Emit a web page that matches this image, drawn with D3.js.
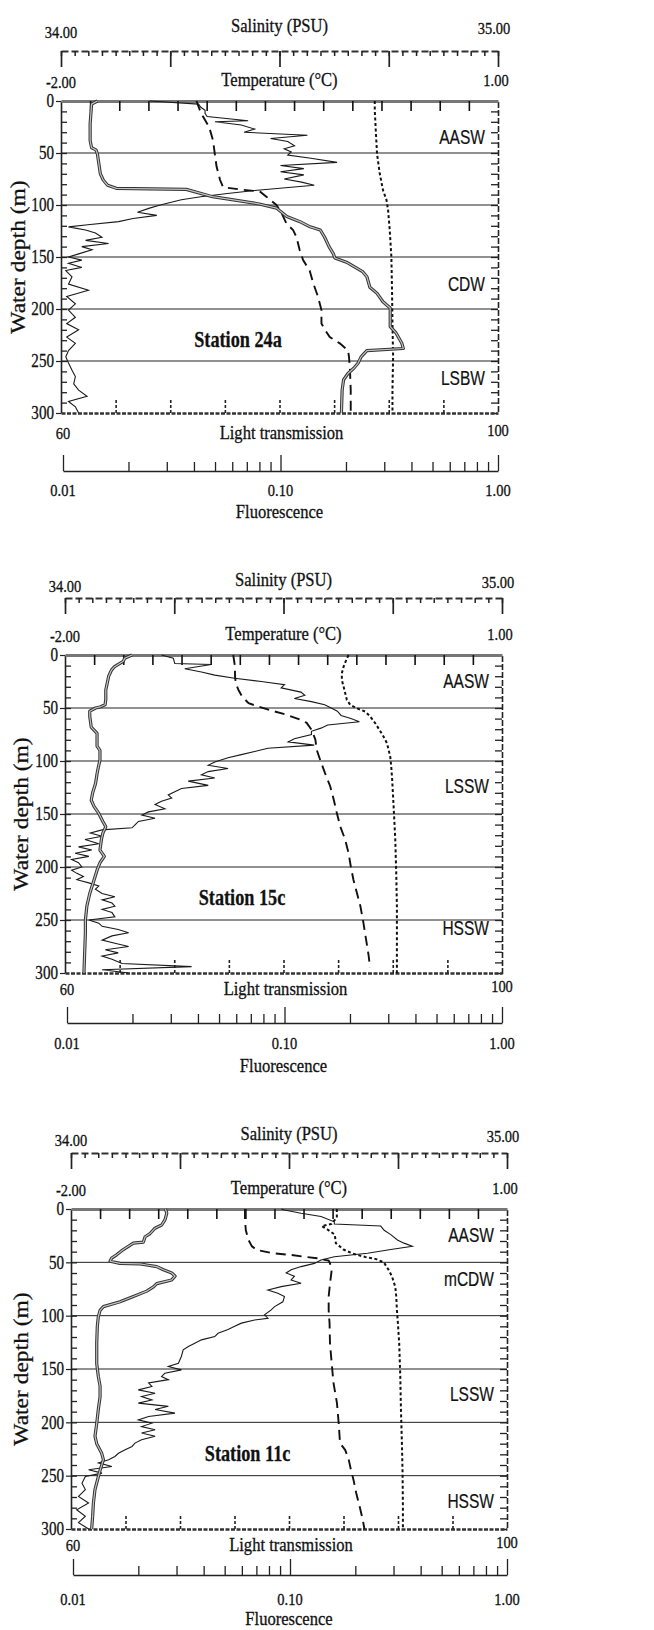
<!DOCTYPE html>
<html>
<head>
<meta charset="utf-8">
<script src="https://cdn.jsdelivr.net/npm/d3@7"></script>
<style>
  body { margin: 0; background: #fff; }
  svg text { font-family: "Liberation Serif", "Times New Roman", serif; fill: #111; stroke: #111; stroke-width: 0.3px; }
  .mass { font-family: "Liberation Sans", Arial, sans-serif; }
</style>
</head>
<body>
<svg id="chart" width="654" height="1630"></svg>
<script>
//===== Data: [depth (m), value] =====
// Station 24a
const st24aTemp = [[0,-1.75],[3,-1.79],[22,-1.80],[38,-1.80],[45,-1.79],[47,-1.76],[51,-1.75],[70,-1.73],[76,-1.71],[81,-1.68],[84,-1.62],[85,-1.14],[92,-0.96],[99,-0.64],[103,-0.52],[111,-0.45],[116,-0.36],[121,-0.29],[124,-0.22],[131,-0.19],[140,-0.16],[147,-0.13],[151,-0.12],[155,-0.04],[164,0.07],[169,0.10],[179,0.12],[185,0.17],[193,0.21],[199,0.26],[204,0.26],[217,0.26],[223,0.30],[233,0.34],[238,0.35],[240,0.10],[246,0.06],[252,0.04],[257,0.01],[262,-0.03],[268,-0.06],[278,-0.07],[300,-0.075]];
const st24aFluor = [[0,0.025],[3,0.042],[6,0.043],[9,0.045],[12,0.045],[15,0.046],[19,0.071],[20,0.050],[23,0.066],[27,0.076],[30,0.068],[33,0.133],[36,0.090],[39,0.108],[43,0.116],[46,0.104],[49,0.112],[52,0.108],[55,0.138],[59,0.182],[62,0.100],[65,0.128],[68,0.100],[71,0.128],[75,0.104],[78,0.125],[81,0.143],[83,0.112],[86,0.076],[89,0.057],[92,0.043],[95,0.035],[100,0.028],[103,0.025],[107,0.022],[110,0.027],[113,0.021],[116,0.018],[119,0.013],[121,0.0106],[124,0.0127],[127,0.0141],[131,0.0151],[134,0.0127],[137,0.0162],[140,0.0122],[143,0.0136],[147,0.0118],[150,0.0106],[153,0.0122],[156,0.0106],[160,0.0122],[163,0.0103],[169,0.011],[176,0.0106],[182,0.0131],[188,0.0104],[195,0.0114],[201,0.0106],[208,0.0114],[214,0.0104],[220,0.0118],[227,0.0104],[233,0.0114],[240,0.0106],[246,0.0103],[252,0.0106],[259,0.011],[265,0.0114],[272,0.0112],[278,0.0118],[284,0.0129],[289,0.0106],[294,0.0114],[300,0.0118]];
const st24aSal = [[0,34.31],[9,34.318],[15,34.325],[25,34.339],[38,34.348],[51,34.352],[63,34.356],[76,34.364],[83,34.371],[85,34.409],[87,34.455],[92,34.47],[100,34.493],[108,34.505],[118,34.516],[124,34.531],[131,34.539],[143,34.546],[153,34.554],[163,34.569],[175,34.577],[188,34.588],[201,34.596],[214,34.596],[220,34.604],[227,34.615],[233,34.638],[240,34.657],[246,34.659],[256,34.661],[278,34.663],[300,34.663]];
const st24aLight = [[0,88.72],[9,88.72],[28,88.81],[51,88.93],[70,89.18],[86,89.48],[95,89.79],[105,89.94],[124,90.09],[150,90.24],[182,90.30],[214,90.34],[246,90.40],[278,90.34],[300,90.34]];
const st24aMasses = [["AASW",34],["CDW",175],["LSBW",266]];

// Station 15c
const st15cTemp = [[0,-1.54],[3,-1.59],[6,-1.60],[11,-1.66],[14,-1.68],[17,-1.69],[20,-1.70],[33,-1.72],[42,-1.72],[47,-1.725],[49,-1.76],[50,-1.79],[53,-1.83],[58,-1.83],[68,-1.82],[74,-1.78],[80,-1.78],[86,-1.78],[90,-1.76],[93,-1.76],[99,-1.76],[105,-1.77],[112,-1.78],[121,-1.79],[130,-1.81],[137,-1.82],[143,-1.80],[149,-1.77],[157,-1.74],[162,-1.72],[168,-1.74],[174,-1.75],[184,-1.76],[190,-1.73],[196,-1.76],[203,-1.78],[212,-1.80],[225,-1.83],[237,-1.85],[250,-1.86],[262,-1.86],[300,-1.87]];
const st15cFluor = [[0,0.0272],[3,0.0308],[8,0.0313],[9,0.0461],[13,0.0348],[16,0.0415],[19,0.0478],[22,0.059],[25,0.0782],[28,0.100],[31,0.0965],[35,0.119],[38,0.124],[41,0.111],[44,0.133],[47,0.153],[50,0.164],[53,0.175],[57,0.182],[60,0.202],[63,0.221],[66,0.158],[69,0.147],[72,0.133],[75,0.133],[79,0.111],[82,0.104],[85,0.137],[88,0.0839],[91,0.0729],[94,0.0633],[97,0.055],[101,0.0478],[104,0.0446],[107,0.055],[110,0.0446],[113,0.0415],[116,0.0478],[119,0.0361],[123,0.0446],[126,0.0336],[129,0.0313],[132,0.0292],[135,0.0303],[138,0.0272],[141,0.0254],[145,0.0282],[148,0.0237],[151,0.0221],[154,0.0254],[157,0.0213],[160,0.0206],[163,0.0199],[165,0.0145],[168,0.0128],[171,0.0145],[174,0.0121],[178,0.014],[181,0.0113],[184,0.013],[187,0.0109],[190,0.0126],[193,0.0105],[196,0.0113],[200,0.0117],[203,0.0105],[206,0.0111],[209,0.0119],[212,0.0111],[215,0.0126],[218,0.014],[221,0.0135],[225,0.0145],[228,0.0166],[231,0.0145],[234,0.0161],[237,0.0166],[240,0.0145],[243,0.0161],[247,0.0166],[250,0.0126],[253,0.014],[256,0.0145],[259,0.0172],[262,0.0192],[265,0.0161],[269,0.0145],[272,0.0166],[275,0.0192],[278,0.015],[281,0.0172],[284,0.0145],[287,0.0161],[291,0.0179],[294,0.0374],[297,0.0145],[300,0.0192]];
const st15cSal = [[0,34.385],[11,34.389],[20,34.389],[27,34.391],[33,34.397],[39,34.405],[45.5,34.42],[48.7,34.443],[52,34.469],[56.5,34.508],[61,34.538],[64,34.553],[71,34.565],[80,34.573],[89.5,34.576],[99,34.584],[111.5,34.595],[124,34.607],[136.6,34.615],[149,34.622],[162,34.630],[174,34.641],[187,34.649],[199.5,34.654],[212,34.66],[224.6,34.668],[237,34.676],[253,34.683],[268.6,34.689],[284,34.695],[295,34.698]];
const st15cLight = [[0,85.95],[4.7,85.74],[11,85.5],[17.3,85.34],[23.6,85.34],[29.8,85.5],[36,85.65],[42.4,85.8],[47,86.11],[50.3,86.72],[53.4,87.48],[58,87.94],[64.4,88.4],[70.7,88.79],[77,89.16],[83.2,89.47],[89.5,89.62],[95.8,89.77],[105,89.86],[118,89.95],[143,90.08],[174,90.23],[206,90.32],[237,90.38],[269,90.38],[300,90.38]];
const st15cMasses = [["AASW",24],["LSSW",123],["HSSW",257]];

// Station 11c
const st11cTemp = [[0,-1.35],[4,-1.341],[10,-1.353],[15,-1.376],[18,-1.422],[23,-1.456],[26,-1.49],[31,-1.502],[32,-1.571],[35,-1.605],[38,-1.64],[43,-1.686],[46,-1.72],[49,-1.731],[51,-1.663],[51.5,-1.525],[52.5,-1.479],[54,-1.41],[57,-1.364],[60,-1.307],[63,-1.284],[66.5,-1.307],[70,-1.41],[73,-1.433],[77,-1.479],[82,-1.571],[87,-1.663],[91.5,-1.777],[95,-1.80],[101,-1.812],[110,-1.819],[126,-1.823],[145,-1.823],[157,-1.812],[166,-1.80],[176,-1.80],[188,-1.812],[201,-1.823],[213,-1.835],[220,-1.823],[229,-1.789],[235,-1.777],[245,-1.80],[251,-1.812],[263,-1.835],[276,-1.846],[288,-1.851],[300,-1.858]];
const st11cFluor = [[0,0.0911],[1,0.0943],[4,0.1125],[7,0.139],[12,0.160],[14,0.160],[16,0.262],[20,0.2716],[24,0.2913],[29,0.3126],[32,0.3354],[35,0.3663],[38,0.2913],[41.5,0.2277],[44.7,0.160],[47.8,0.139],[51,0.1296],[54,0.1125],[57,0.1012],[60,0.096],[63,0.1048],[66.5,0.1012],[69.6,0.1125],[72.8,0.0911],[76,0.0791],[79,0.0879],[82,0.0943],[87,0.0927],[91.5,0.0849],[94.6,0.0819],[99.3,0.0763],[102.4,0.0791],[104,0.0687],[107,0.0597],[110,0.0556],[113,0.0518],[116.5,0.0466],[119.6,0.045],[122.7,0.0391],[125.8,0.0364],[129,0.034],[132,0.0322],[138,0.0316],[144.6,0.0306],[147.7,0.0275],[150.8,0.0316],[154,0.0265],[157,0.0256],[160,0.0275],[163,0.0223],[166.4,0.0231],[169.6,0.020],[172.7,0.0239],[175.8,0.0207],[179,0.0231],[182,0.020],[185,0.0275],[188,0.0239],[191.4,0.0295],[194.5,0.0223],[197.7,0.020],[200.8,0.0231],[204,0.0207],[207,0.0239],[210,0.0207],[213,0.0239],[216.4,0.0207],[219.5,0.0193],[222.6,0.0187],[225.8,0.0174],[229,0.0162],[232,0.0156],[235,0.0146],[238,0.0131],[241.4,0.0151],[244.5,0.0118],[247.6,0.0136],[250.7,0.0114],[257,0.011],[263,0.0114],[269.5,0.0106],[275.7,0.0118],[282,0.0104],[288,0.0114],[294,0.0106],[300,0.0118]];
const st11cSal = [[0,34.399],[10,34.399],[20,34.401],[29,34.407],[35,34.415],[38.4,34.426],[41.5,34.464],[43,34.503],[44.7,34.533],[46.2,34.564],[48.4,34.591],[51,34.594],[57,34.598],[70,34.594],[82,34.591],[95,34.591],[107,34.593],[126,34.594],[145,34.598],[163,34.602],[182,34.61],[201,34.614],[219.5,34.617],[226,34.629],[235,34.637],[244.5,34.642],[254,34.648],[266,34.654],[279,34.662],[291,34.669],[300,34.673]];
const st11cLight = [[0,84.39],[8,84.39],[14,83.9],[16,83.0],[19,83.5],[24,84.2],[32,84.3],[38,85.0],[42,85.9],[45,87.0],[47,88.0],[50,88.7],[57,89.13],[63,89.44],[73,89.75],[82,89.84],[95,89.9],[107,89.99],[126,90.11],[157,90.21],[188,90.27],[220,90.36],[248,90.42],[279,90.45],[300,90.45]];
const st11cMasses = [["AASW",24],["mCDW",65],["LSSW",173],["HSSW",273]];

const stationNames = ["Station 24a", "Station 15c", "Station 11c"];

//===== Tick labels =====
const depthTicks = [0, 50, 100, 150, 200, 250, 300];
const gridDepths = [50, 100, 150, 200, 250];
const salinityLabels = ["34.00", "35.00"];
const temperatureLabels = ["-2.00", "1.00"];
const lightLabels = ["60", "100"];
const fluorLabels = [0.01, 0.1, 1];

//===== Layout of the three panels (px) =====
const boxes = [
  { left: 61, right: 498, top: 101, bottom: 413, sAxis: -50, yLab: 25, lLab: 19, fAxis: 58, fLab: 77, fTitle: 98 },
  { left: 65, right: 502, top: 655, bottom: 973, sAxis: -57, yLab: 28, lLab: 15, fAxis: 50, fLab: 70, fTitle: 92 },
  { left: 71, right: 507, top: 1209, bottom: 1529, sAxis: -56, yLab: 28, lLab: 15, fAxis: 46, fLab: 70, fTitle: 89 },
];

const stations = [
  { name: stationNames[0], temp: st24aTemp, fluor: st24aFluor, sal: st24aSal, light: st24aLight, masses: st24aMasses },
  { name: stationNames[1], temp: st15cTemp, fluor: st15cFluor, sal: st15cSal, light: st15cLight, masses: st15cMasses },
  { name: stationNames[2], temp: st11cTemp, fluor: st11cFluor, sal: st11cSal, light: st11cLight, masses: st11cMasses },
];

const svg = d3.select("#chart");
svg.append("rect").attr("width", 654).attr("height", 1630).attr("fill", "#fff");

const drawPanel = (st, box) => {
  const g = svg.append("g");
  const cx = (box.left + box.right) / 2;

  const y = d3.scaleLinear().domain([0, 300]).range([box.top, box.bottom]);
  const xT = d3.scaleLinear().domain([-2, 1]).range([box.left, box.right]);
  const xS = d3.scaleLinear().domain([34, 35]).range([box.left, box.right]);
  const xL = d3.scaleLinear().domain([60, 100]).range([box.left, box.right]);
  const xF = d3.scaleLog().domain([0.01, 1]).range([box.left + 2, box.right]);

  // condensed text (the scan is narrow)
  const text = (x, yy, str, size, sx = 0.85, anchor = "middle") =>
    g.append("text")
      .attr("transform", `translate(${x},${yy}) scale(${sx},1)`)
      .attr("dy", "0.35em")
      .attr("text-anchor", anchor)
      .style("font-size", size + "px")
      .text(str);

  //===== grid lines =====
  g.selectAll(".grid")
    .data(gridDepths)
    .enter()
    .append("line")
    .attr("x1", box.left)
    .attr("x2", box.right)
    .attr("y1", (d) => y(d))
    .attr("y2", (d) => y(d))
    .attr("stroke", "#222")
    .attr("stroke-width", 1);

  //===== depth axis =====
  const yAxisG = g.append("g").attr("transform", `translate(${box.left},0)`)
    .call(d3.axisLeft(y).tickValues(depthTicks).tickSize(5).tickSizeOuter(0).tickFormat(""));
  yAxisG.select(".domain").attr("stroke", "#222").attr("stroke-width", 1.6);
  yAxisG.selectAll("line").attr("stroke", "#222").attr("stroke-width", 1.2);
  depthTicks.forEach((d) => text(box.left - 7, y(d), d, 18, 0.84, "end"));

  const minorDepth = d3.range(10, 300, 10);
  g.append("g").attr("transform", `translate(${box.left},0)`)
    .call(d3.axisRight(y).tickValues(minorDepth).tickSize(6).tickFormat(""))
    .call((a) => a.select(".domain").remove())
    .selectAll("line").attr("stroke", "#222").attr("stroke-width", 1.3);
  const rightG = g.append("g").attr("transform", `translate(${box.right},0)`)
    .call(d3.axisLeft(y).tickValues(minorDepth).tickSize(7).tickFormat(""));
  rightG.select(".domain").attr("stroke", "#222").attr("stroke-width", 1.6).attr("stroke-dasharray", "6,2");
  rightG.selectAll("line").attr("stroke", "#222").attr("stroke-width", 1.3);

  //===== temperature axis on top of frame =====
  const tAxisG = g.append("g").attr("transform", `translate(0,${box.top})`)
    .call(d3.axisBottom(xT).tickValues(d3.range(-1.8, 0.99, 0.2)).tickSize(10).tickSizeOuter(0).tickFormat(""));
  tAxisG.select(".domain").attr("stroke", "#777").attr("stroke-width", 3.2);
  tAxisG.selectAll("line").attr("stroke", "#111").attr("stroke-width", 1.6);

  //===== salinity axis =====
  const sY = box.top + box.sAxis;
  const sAxisG = g.append("g").attr("transform", `translate(0,${sY})`)
    .call(d3.axisBottom(xS).tickValues(d3.range(34, 35.001, 0.03125)).tickSize(5).tickSizeOuter(0).tickFormat(""));
  sAxisG.select(".domain").attr("stroke", "#333").attr("stroke-width", 2.2).attr("stroke-dasharray", "7,3");
  sAxisG.selectAll("line").attr("stroke", "#222").attr("stroke-width", 1.5);
  g.append("g").attr("transform", `translate(0,${sY})`)
    .call(d3.axisBottom(xS).tickValues(d3.range(34, 35.001, 0.25)).tickSize(16).tickFormat(""))
    .call((a) => a.select(".domain").remove())
    .selectAll("line").attr("stroke", "#222").attr("stroke-width", 1.7);

  //===== light transmission axis at bottom =====
  const lAxisG = g.append("g").attr("transform", `translate(0,${box.bottom})`)
    .call(d3.axisTop(xL).tickValues(d3.range(65, 100, 5)).tickSize(13).tickSizeOuter(0).tickFormat(""));
  lAxisG.select(".domain").attr("stroke", "#333").attr("stroke-width", 2.6).attr("stroke-dasharray", "4,1.5");
  lAxisG.selectAll("line").attr("stroke", "#222").attr("stroke-width", 1.6).attr("stroke-dasharray", "3,2");

  //===== fluorescence axis =====
  const fY = box.bottom + box.fAxis;
  const fAxisG = g.append("g").attr("transform", `translate(0,${fY})`)
    .call(d3.axisTop(xF).tickValues(xF.ticks()).tickSize(9).tickSizeOuter(0).tickFormat(""));
  fAxisG.select(".domain").attr("stroke", "#222").attr("stroke-width", 1.4);
  fAxisG.selectAll(".tick line").attr("stroke", "#222").attr("stroke-width", 1.3)
    .attr("y2", (d) => (fluorLabels.includes(+d.toFixed(2)) ? -16 : -9));

  //===== labels =====
  text(cx, box.top - 76, "Salinity (PSU)", 19.5);
  text(box.left, box.top - 69, salinityLabels[0], 17);
  text(box.right - 4, box.top - 73, salinityLabels[1], 17);
  text(cx, box.top - 22, "Temperature (\u00B0C)", 19.5);
  text(box.left, box.top - 19, temperatureLabels[0], 17);
  text(box.right - 2, box.top - 21, temperatureLabels[1], 17);
  text(cx + 2, box.bottom + box.lLab, "Light transmission", 19.5);
  text(box.left + 2, box.bottom + box.lLab + 1, lightLabels[0], 17);
  text(box.right, box.bottom + box.lLab - 2, lightLabels[1], 17);
  fluorLabels.forEach((v) => text(xF(v), box.bottom + box.fLab, v.toFixed(2), 17));
  text(cx, box.bottom + box.fTitle, "Fluorescence", 19.5);

  g.append("text")
    .attr("transform", `translate(${box.yLab},${(box.top + box.bottom) / 2}) rotate(-90) scale(1,0.85)`)
    .attr("text-anchor", "middle")
    .style("font-size", "23.5px")
    .text("Water depth (m)");

  text(box.left + 0.405 * (box.right - box.left), y(228), st.name, 24, 0.76)
    .style("font-weight", "bold");

  g.selectAll(".mass")
    .data(st.masses)
    .enter()
    .append("text")
    .attr("class", "mass")
    .attr("transform", (d) => `translate(${box.right - 13},${y(d[1])}) scale(0.74,1)`)
    .attr("dy", "0.36em")
    .attr("text-anchor", "end")
    .style("font-size", "21px")
    .style("stroke-width", "0.2px")
    .text((d) => d[0]);

  //===== profiles =====
  const lineOf = (xs) => d3.line().x((d) => xs(d[1])).y((d) => y(d[0]));

  g.append("path").datum(st.fluor).attr("d", lineOf(xF))
    .attr("fill", "none").attr("stroke", "#1a1a1a").attr("stroke-width", 1.1);
  g.append("path").datum(st.sal).attr("d", lineOf(xS))
    .attr("fill", "none").attr("stroke", "#111").attr("stroke-width", 1.9).attr("stroke-dasharray", "10,6");
  g.append("path").datum(st.light).attr("d", lineOf(xL))
    .attr("fill", "none").attr("stroke", "#111").attr("stroke-width", 2).attr("stroke-dasharray", "3,2.5");
  g.append("path").datum(st.temp).attr("d", lineOf(xT))
    .attr("fill", "none").attr("stroke", "#333").attr("stroke-width", 3.2).attr("stroke-linejoin", "round");
  g.append("path").datum(st.temp).attr("d", lineOf(xT))
    .attr("fill", "none").attr("stroke", "#c4c4c4").attr("stroke-width", 1.2).attr("stroke-linejoin", "round");
};

stations.forEach((st, i) => drawPanel(st, boxes[i]));
</script>
</body>
</html>
